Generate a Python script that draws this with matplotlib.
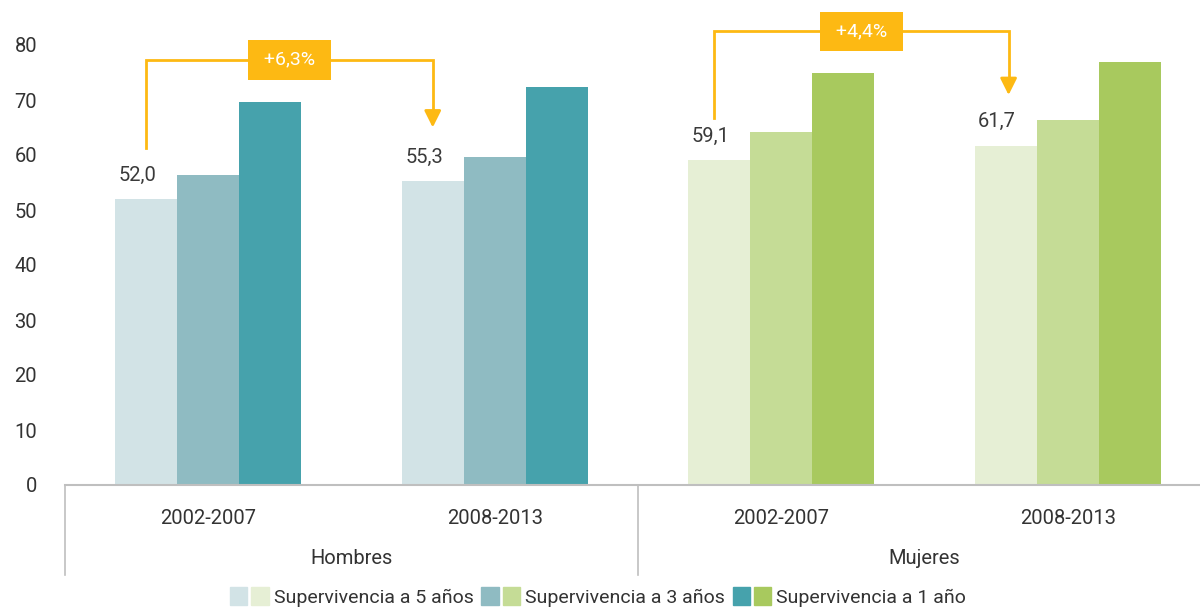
import matplotlib
matplotlib.use("Agg")
import matplotlib.pyplot as plt
from matplotlib.patches import Patch
from matplotlib.legend_handler import HandlerTuple
from matplotlib.font_manager import fontManager

groups = ["Hombres", "Mujeres"]
periods = ["2002-2007", "2008-2013"]
series = ["Supervivencia a 5 años", "Supervivencia a 3 años", "Supervivencia a 1 año"]
surv5 = [52.0, 55.3, 59.1, 61.7]
surv3 = [56.3, 59.7, 64.2, 66.4]
surv1 = [69.6, 72.3, 75.0, 77.0]
labels5 = ["52,0", "55,3", "59,1", "61,7"]
changes = ["+6,3%", "+4,4%"]

teal = ["#D2E3E6", "#8FBBC2", "#46A2AC"]
green = ["#E6EFD5", "#C5DC96", "#A8C95E"]
gold = "#FDB913"

names = {f.name for f in fontManager.ttflist}
fam = [f for f in ["Roboto", "DejaVu Sans"] if f in names]
plt.rcParams["font.family"] = fam

fig = plt.figure(figsize=(12, 6.1), dpi=100)
ax = fig.add_axes([65/1200, 125/610, 1146/1200, 485/610])
ax.set_xlim(-0.5, 3.5)
ax.set_ylim(0, 485/5.5)

w = 0.2165
xs = list(range(4))
vals = [surv5, surv3, surv1]
for i, v in enumerate(vals):
    cols = [teal[i]] * 2 + [green[i]] * 2
    ax.bar([x + (i - 1) * w for x in xs], v, width=w, color=cols, zorder=2)

for x, v, t in zip(xs, surv5, labels5):
    ax.text(x - w - 0.03, v + 2.6, t, ha="center", va="bottom", fontsize=14.5, color="#3a3a3a")

# change annotations
ann = [(0, 1, 61.3, 77.3, 64.5), (2, 3, 66.7, 82.5, 70.4)]
for (a, b, ys, ytop, ytip), txt in zip(ann, changes):
    xa = a - w - (0.0 if a == 0 else 0.017)
    xb = b - w + (0.0 if a == 0 else 0.01)
    ax.plot([xa, xa, xb, xb], [ys, ytop, ytop, ytip + 3], color=gold, lw=2, solid_joinstyle="miter", zorder=3, clip_on=False)
    ax.annotate("", xy=(xb, ytip), xytext=(xb, ytip + 3.2),
                arrowprops=dict(arrowstyle="-|>,head_width=0.5,head_length=1.0", color=gold, lw=2), zorder=3)
    ax.text((xa + xb) / 2, ytop, " " + txt + " ", ha="center", va="center", fontsize=14, color="white",
            zorder=4, bbox=dict(boxstyle="square,pad=0.55", fc=gold, ec="none"))

ax.set_yticks(range(0, 81, 10))
ax.tick_params(axis="y", length=0, pad=20, labelsize=14.5, labelcolor="#333333")
ax.set_xticks([])
for s in ["top", "right", "left"]:
    ax.spines[s].set_visible(False)
ax.spines["bottom"].set_color("#BFBFBF")
ax.spines["bottom"].set_linewidth(1.5)

trans = ax.get_xaxis_transform()
for xv in [-0.5, 1.5]:
    ax.plot([xv, xv], [0, -90/485], transform=trans, color="#BFBFBF", lw=1.2, clip_on=False)
for x, p in zip(xs, periods * 2):
    ax.text(x, -34/485, p, transform=trans, ha="center", va="center", fontsize=14.5, color="#333333")
for gi, g in enumerate(groups):
    ax.text(0.5 + 2 * gi, -73/485, g, transform=trans, ha="center", va="center", fontsize=14.5, color="#333333")

handles = [(Patch(color=teal[i]), Patch(color=green[i])) for i in range(3)]
fig.legend(handles, series, handler_map={tuple: HandlerTuple(ndivide=None, pad=0.2)},
           loc="center", bbox_to_anchor=(598/1200, 1 - 597/610), ncol=3, frameon=False,
           fontsize=14, handlelength=2.0, handleheight=1.0, handletextpad=0.25, columnspacing=0.4,
           labelcolor="#333333")

fig.savefig("out.png", dpi=100)
